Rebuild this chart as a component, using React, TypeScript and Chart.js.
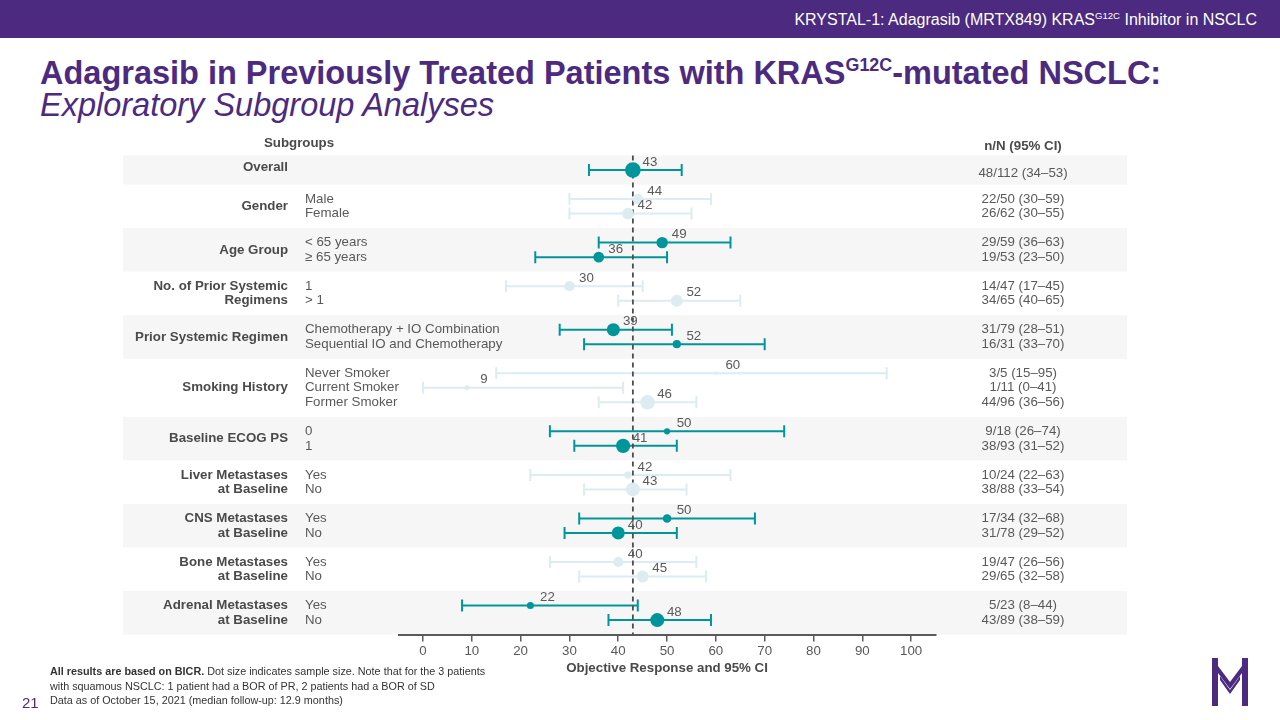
import React, { useEffect, useRef } from "react";
import { Chart, registerables } from "chart.js";

Chart.register(...registerables);

// ---------- DATA ----------
const groupLabels: string[][] = [
  ["Overall"],
  ["Gender"],
  ["Age Group"],
  ["No. of Prior Systemic", "Regimens"],
  ["Prior Systemic Regimen"],
  ["Smoking History"],
  ["Baseline ECOG PS"],
  ["Liver Metastases", "at Baseline"],
  ["CNS Metastases", "at Baseline"],
  ["Bone Metastases", "at Baseline"],
  ["Adrenal Metastases", "at Baseline"],
];
const groupSizes = [1, 2, 2, 2, 2, 3, 2, 2, 2, 2, 2];
const subgroupLabels = [
  "",
  "Male", "Female",
  "< 65 years", "≥ 65 years",
  "1", "> 1",
  "Chemotherapy + IO Combination", "Sequential IO and Chemotherapy",
  "Never Smoker", "Current Smoker", "Former Smoker",
  "0", "1",
  "Yes", "No",
  "Yes", "No",
  "Yes", "No",
  "Yes", "No",
];
const responders = [48, 22, 26, 29, 19, 14, 34, 31, 16, 3, 1, 44, 9, 38, 10, 38, 17, 31, 19, 29, 5, 43];
const totals = [112, 50, 62, 59, 53, 47, 65, 79, 31, 5, 11, 96, 18, 93, 24, 88, 34, 78, 47, 65, 23, 89];
const orr = [43, 44, 42, 49, 36, 30, 52, 39, 52, 60, 9, 46, 50, 41, 42, 43, 50, 40, 40, 45, 22, 48];
const ciLow = [34, 30, 30, 36, 23, 17, 40, 28, 33, 15, 0, 36, 26, 31, 22, 33, 32, 29, 26, 32, 8, 38];
const ciHigh = [53, 59, 55, 63, 50, 45, 65, 51, 70, 95, 41, 56, 74, 52, 63, 54, 68, 52, 56, 58, 44, 59];
const xTicks = [0, 10, 20, 30, 40, 50, 60, 70, 80, 90, 100];

// ---------- STYLE ----------
const TEAL = "#00959B";
const LIGHT = "#DCECF1";
const BAND = "#F6F6F6";
const TEXT = "#595959";
const LABEL = "#4A4A4A";
const AXIS = "#5A5A5A";
const PURPLE = "#4B2A80";
const FONT = "Arial, 'Liberation Sans', Helvetica, sans-serif";
const FS = 13.3;

// row layout derived from the group structure (one blank slot between groups)
const rowPos: number[] = [];
const rowGroup: number[] = [];
const groupFirst: number[] = [];
const groupLast: number[] = [];
{
  let cursor = 0;
  groupSizes.forEach((n, g) => {
    groupFirst.push(cursor);
    for (let k = 0; k < n; k++) {
      rowPos.push(cursor);
      rowGroup.push(g);
      cursor++;
    }
    groupLast.push(cursor - 1);
    cursor += 1;
  });
}
const yMin = -1;
const yMax = groupLast[groupLast.length - 1] + 1;
const isHi = (i: number) => rowGroup[i] % 2 === 0;
const radiusFor = (i: number) => 0.74 * Math.sqrt(totals[i]);

const forestPlugin = {
  id: "forest",
  beforeDraw(chart: any) {
    const { ctx, scales, chartArea } = chart;
    const y = scales.y;
    ctx.save();
    // bands
    groupSizes.forEach((_, g) => {
      if (g % 2 !== 0) return;
      const top = y.getPixelForValue(groupFirst[g] - 1);
      const bot = y.getPixelForValue(groupLast[g] + 1);
      ctx.fillStyle = BAND;
      ctx.fillRect(123, top, 1127 - 123, bot - top);
    });
    // headers
    ctx.fillStyle = LABEL;
    ctx.font = `bold ${FS}px ${FONT}`;
    ctx.textAlign = "center";
    ctx.textBaseline = "middle";
    ctx.fillText("Subgroups", 299, 143);
    ctx.fillText("n/N (95% CI)", 1023, 146);
    // group labels
    groupSizes.forEach((n, g) => {
      const lines = groupLabels[g];
      const rows: number[] = [];
      for (let k = 0; k < n; k++) rows.push(y.getPixelForValue(groupFirst[g] + k));
      ctx.font = `bold ${FS}px ${FONT}`;
      ctx.textAlign = "right";
      ctx.fillStyle = LABEL;
      if (lines.length === rows.length && rows.length > 1) {
        lines.forEach((l, k) => ctx.fillText(l, 288, rows[k]));
      } else {
        const mid = rows.reduce((a, b) => a + b, 0) / rows.length;
        const c = mid - ((lines.length - 1) * 14.5) / 2 - (rows.length === 1 ? 3 : 0);
        lines.forEach((l, k) => ctx.fillText(l, 288, c + k * 14.5));
      }
    });
    // subgroup labels and n/N column
    rowPos.forEach((r, i) => {
      const py = y.getPixelForValue(r);
      const single = groupSizes[rowGroup[i]] === 1;
      ctx.font = `${FS}px ${FONT}`;
      ctx.fillStyle = TEXT;
      ctx.textAlign = "left";
      if (subgroupLabels[i]) ctx.fillText(subgroupLabels[i], 305, py);
      ctx.textAlign = "center";
      ctx.fillText(`${responders[i]}/${totals[i]} (${ciLow[i]}–${ciHigh[i]})`, 1023, py + (single ? 3 : 0));
    });
    // axis title
    ctx.font = `bold ${FS}px ${FONT}`;
    ctx.fillStyle = LABEL;
    ctx.textAlign = "center";
    ctx.fillText("Objective Response and 95% CI", (chartArea.left + chartArea.right) / 2, 668);
    ctx.restore();
  },
  beforeDatasetsDraw(chart: any) {
    const { ctx, scales, chartArea } = chart;
    const x = scales.x;
    const y = scales.y;
    ctx.save();
    rowPos.forEach((r, i) => {
      const py = y.getPixelForValue(r);
      const x1 = x.getPixelForValue(ciLow[i]);
      const x2 = x.getPixelForValue(ciHigh[i]);
      ctx.strokeStyle = isHi(i) ? TEAL : LIGHT;
      ctx.lineWidth = 2;
      ctx.beginPath();
      ctx.moveTo(x1, py);
      ctx.lineTo(x2, py);
      ctx.moveTo(x1, py - 6);
      ctx.lineTo(x1, py + 6);
      ctx.moveTo(x2, py - 6);
      ctx.lineTo(x2, py + 6);
      ctx.stroke();
    });
    // reference (overall) dashed line
    const rx = x.getPixelForValue(orr[0]);
    ctx.strokeStyle = "#4D4D4D";
    ctx.lineWidth = 1.8;
    ctx.setLineDash([5, 4]);
    ctx.beginPath();
    ctx.moveTo(rx, chartArea.top);
    ctx.lineTo(rx, chartArea.bottom);
    ctx.stroke();
    ctx.restore();
  },
  afterDatasetsDraw(chart: any) {
    const { ctx, scales } = chart;
    const x = scales.x;
    const y = scales.y;
    ctx.save();
    ctx.font = `${FS}px ${FONT}`;
    ctx.fillStyle = TEXT;
    ctx.textAlign = "center";
    ctx.textBaseline = "middle";
    rowPos.forEach((r, i) => {
      const px = x.getPixelForValue(orr[i]);
      const py = y.getPixelForValue(r);
      ctx.fillText(String(orr[i]), px + 17, py - 8);
    });
    ctx.restore();
  },
};

function ForestChart() {
  const ref = useRef<HTMLCanvasElement | null>(null);
  useEffect(() => {
    if (!ref.current) return;
    const chart = new Chart(ref.current, {
      type: "scatter",
      data: {
        datasets: [
          {
            data: orr.map((v, i) => ({ x: v, y: rowPos[i] })),
            pointRadius: (c: any) => radiusFor(c.dataIndex ?? 0),
            pointHoverRadius: (c: any) => radiusFor(c.dataIndex ?? 0),
            pointBackgroundColor: (c: any) => (isHi(c.dataIndex ?? 0) ? TEAL : LIGHT),
            pointBorderWidth: 0,
            pointBorderColor: "rgba(0,0,0,0)",
          },
        ],
      },
      options: {
        responsive: false,
        maintainAspectRatio: false,
        animation: false,
        events: [],
        layout: { padding: { left: 398.6, right: 344.5, top: 155.5, bottom: 45.4 } },
        plugins: { legend: { display: false }, tooltip: { enabled: false } },
        scales: {
          x: {
            type: "linear",
            min: -5,
            max: 105,
            afterBuildTicks: (s: any) => {
              s.ticks = xTicks.map((v) => ({ value: v }));
            },
            afterFit: (s: any) => {
              s.height = 40;
            },
            grid: {
              display: true,
              drawOnChartArea: false,
              drawTicks: true,
              tickLength: 7,
              color: AXIS,
              lineWidth: 1.5,
            },
            border: { display: true, color: AXIS, width: 2 },
            ticks: {
              color: TEXT,
              font: { family: FONT, size: FS },
              padding: 2,
              maxRotation: 0,
              autoSkip: false,
            },
          },
          y: {
            type: "linear",
            display: false,
            min: yMin,
            max: yMax,
            reverse: true,
          },
        },
      },
      plugins: [forestPlugin],
    } as any);
    return () => chart.destroy();
  }, []);
  return (
    <canvas
      ref={ref}
      width={1280}
      height={720}
      style={{ position: "absolute", left: 0, top: 0, width: 1280, height: 720 }}
    />
  );
}

function Logo() {
  return (
    <svg
      width={36}
      height={48}
      viewBox="0 0 36 48"
      style={{ position: "absolute", left: 1212, top: 658 }}
    >
      <rect x={0} y={0} width={6} height={48} fill={PURPLE} />
      <rect x={30} y={0} width={6} height={48} fill={PURPLE} />
      <polygon points="0,0 18,24 36,0 36,7 18,31 0,7" fill={PURPLE} />
      <polygon points="8,18 18,32 28,18 28,22 18,36 8,22" fill={PURPLE} />
    </svg>
  );
}

export default function App() {
  return (
    <div
      style={{
        position: "absolute",
        left: 0,
        top: 0,
        width: 1280,
        height: 720,
        background: "#ffffff",
        overflow: "hidden",
        fontFamily: FONT,
      }}
    >
      <div
        style={{
          position: "absolute",
          left: 0,
          top: 0,
          width: 1280,
          height: 38,
          background: PURPLE,
        }}
      />
      <div
        style={{
          position: "absolute",
          right: 23,
          top: 10,
          color: "#ffffff",
          fontSize: 16,
          lineHeight: "20px",
          whiteSpace: "nowrap",
        }}
      >
        KRYSTAL-1: Adagrasib (MRTX849) KRAS
        <span style={{ fontSize: "0.6em", verticalAlign: "0.6em", lineHeight: 0 }}>G12C</span> Inhibitor in NSCLC
      </div>
      <div
        style={{
          position: "absolute",
          left: 40,
          top: 57,
          color: PURPLE,
          fontSize: 32.5,
          fontWeight: "bold",
          lineHeight: "32px",
          whiteSpace: "nowrap",
        }}
      >
        Adagrasib in Previously Treated Patients with KRAS
        <span style={{ fontSize: "0.55em", verticalAlign: "0.75em", lineHeight: 0 }}>G12C</span>-mutated NSCLC:
      </div>
      <div
        style={{
          position: "absolute",
          left: 40,
          top: 89,
          color: PURPLE,
          fontSize: 32.5,
          fontStyle: "italic",
          lineHeight: "32px",
          whiteSpace: "nowrap",
        }}
      >
        Exploratory Subgroup Analyses
      </div>
      <ForestChart />
      <div
        style={{
          position: "absolute",
          left: 50,
          top: 664,
          color: "#333333",
          fontSize: 10.8,
          lineHeight: "15px",
          whiteSpace: "nowrap",
        }}
      >
        <div>
          <b>All results are based on BICR.</b> Dot size indicates sample size. Note that for the 3 patients
        </div>
        <div>with squamous NSCLC: 1 patient had a BOR of PR, 2 patients had a BOR of SD</div>
      </div>
      <div
        style={{
          position: "absolute",
          left: 50,
          top: 693,
          color: "#333333",
          fontSize: 10.8,
          lineHeight: "15px",
          whiteSpace: "nowrap",
        }}
      >
        Data as of October 15, 2021 (median follow-up: 12.9 months)
      </div>
      <div
        style={{
          position: "absolute",
          left: 22,
          top: 694,
          color: PURPLE,
          fontSize: 15,
          lineHeight: "18px",
        }}
      >
        21
      </div>
      <Logo />
    </div>
  );
}
